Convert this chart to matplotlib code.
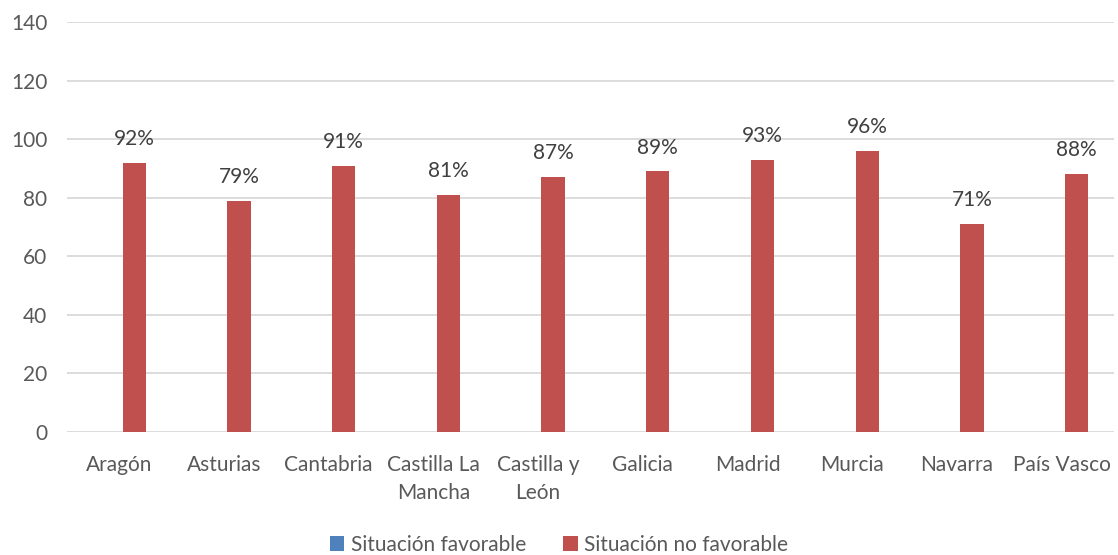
import matplotlib.pyplot as plt
import numpy as np

plt.rcParams['font.family'] = ['Lato', 'DejaVu Sans']

regiones = ['Aragón', 'Asturias', 'Cantabria', 'Castilla La\nMancha', 'Castilla y\nLeón',
            'Galicia', 'Madrid', 'Murcia', 'Navarra', 'País Vasco']
favorable = [0, 0, 0, 0, 0, 0, 0, 0, 0, 0]
no_favorable = [92, 79, 91, 81, 87, 89, 93, 96, 71, 88]

azul = '#4F81BD'
rojo = '#C0504D'
gris = '#595959'

fig = plt.figure(figsize=(11.18, 5.55), dpi=100)
ax = fig.add_axes([0.0599, 0.222, 0.9365, 0.738])

x = np.arange(len(regiones))
w = 0.223
ax.bar(x - 0.143, favorable, w, color=azul, label='Situación favorable')
bars = ax.bar(x + 0.143, no_favorable, w, color=rojo, label='Situación no favorable')

for b, v in zip(bars, no_favorable):
    ax.annotate(f'{v}%', (b.get_x() + b.get_width() / 2, v), xytext=(0, 10),
                textcoords='offset points', ha='center', va='bottom',
                fontsize=15, color='#404040')

ax.set_xlim(-0.5, len(regiones) - 0.5)
ax.set_ylim(0, 140)
ax.set_yticks(range(0, 141, 20))
ax.set_xticks(x)
ax.set_xticklabels(regiones, fontsize=15, color=gris, linespacing=1.45)
ax.tick_params(axis='y', labelsize=15, labelcolor=gris, length=0, pad=14)
ax.tick_params(axis='x', length=0, pad=17)
ax.grid(axis='y', color='#D9D9D9', lw=1.3)
ax.set_axisbelow(True)
for s in ax.spines.values():
    s.set_visible(False)

fig.legend(loc='center', bbox_to_anchor=(0.5, 0.018), ncol=2, frameon=False,
           fontsize=15, labelcolor=gris, handlelength=0.7, handleheight=0.7,
           handletextpad=0.3, columnspacing=1.8)

fig.savefig('out.png', dpi=100)
